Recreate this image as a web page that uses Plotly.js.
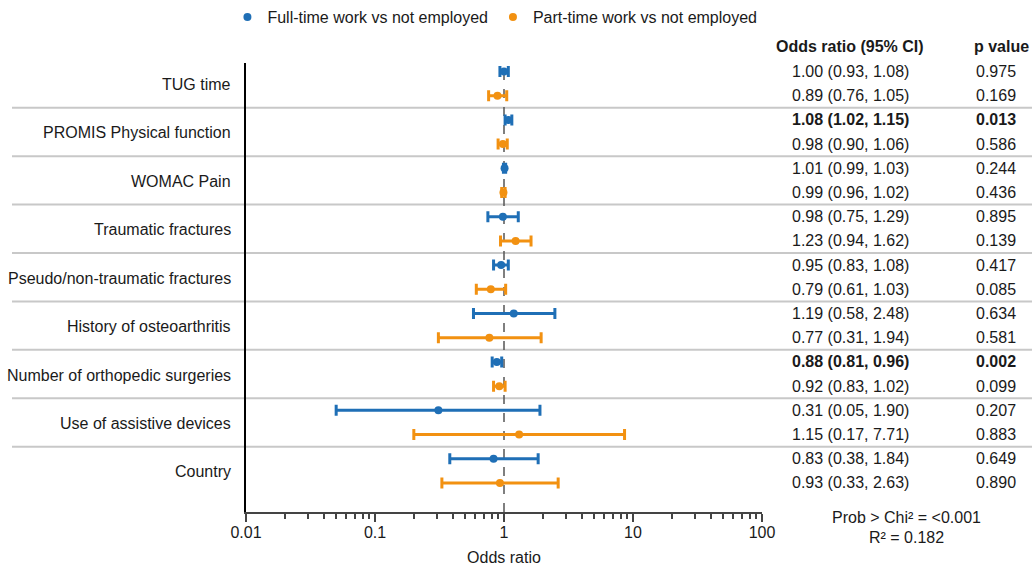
<!DOCTYPE html>
<html>
<head>
<meta charset="utf-8">
<script src="https://cdn.plot.ly/plotly-3.0.1.min.js"></script>
<style>html,body{margin:0;padding:0;background:#fff;}#chart{width:1032px;height:568px;}</style>
</head>
<body>
<div id="chart"></div>
<script>
// ---- data ----
const categories = ["TUG time", "PROMIS Physical function", "WOMAC Pain", "Traumatic fractures",
  "Pseudo/non-traumatic fractures", "History of osteoarthritis", "Number of orthopedic surgeries",
  "Use of assistive devices", "Country"];
const seriesNames = ["Full-time work vs not employed", "Part-time work vs not employed"];

// plotted marks
const ftEst = [1.00, 1.08, 1.01, 0.98, 0.95, 1.19, 0.88, 0.31, 0.83];
const ftLo  = [0.93, 1.02, 0.99, 0.75, 0.83, 0.58, 0.81, 0.05, 0.38];
const ftHi  = [1.08, 1.15, 1.03, 1.29, 1.08, 2.48, 0.96, 1.90, 1.84];
const ptEst = [0.89, 0.98, 0.99, 1.23, 0.79, 0.77, 0.92, 1.31, 0.93];
const ptLo  = [0.76, 0.90, 0.96, 0.94, 0.61, 0.31, 0.83, 0.20, 0.33];
const ptHi  = [1.05, 1.06, 1.02, 1.62, 1.03, 1.94, 1.02, 8.60, 2.63];

// table text
const ftTable = ["1.00 (0.93, 1.08)", "1.08 (1.02, 1.15)", "1.01 (0.99, 1.03)", "0.98 (0.75, 1.29)",
  "0.95 (0.83, 1.08)", "1.19 (0.58, 2.48)", "0.88 (0.81, 0.96)", "0.31 (0.05, 1.90)", "0.83 (0.38, 1.84)"];
const ptTable = ["0.89 (0.76, 1.05)", "0.98 (0.90, 1.06)", "0.99 (0.96, 1.02)", "1.23 (0.94, 1.62)",
  "0.79 (0.61, 1.03)", "0.77 (0.31, 1.94)", "0.92 (0.83, 1.02)", "1.15 (0.17, 7.71)", "0.93 (0.33, 2.63)"];
const ftP = ["0.975", "0.013", "0.244", "0.895", "0.417", "0.634", "0.002", "0.207", "0.649"];
const ptP = ["0.169", "0.586", "0.436", "0.139", "0.085", "0.581", "0.099", "0.883", "0.890"];
const ftBold = [false, true, false, false, false, false, true, false, false];
const ptBold = [false, false, false, false, false, false, false, false, false];

const tableHeaders = ["Odds ratio (95% CI)", "p value"];
const tickVals = [0.01, 0.1, 1, 10, 100];
const tickText = ["0.01", "0.1", "1", "10", "100"];
const statsText = ["Prob > Chi² = <0.001", "R² = 0.182"];

// ---- styling ----
const BLUE = "#1f6fb6";
const ORANGE = "#f29111";
const TXT = "#1a1a1a";
const FONT = "Liberation Sans, Arial, sans-serif";
const FS = 16;

const n = categories.length;
const yBlue = categories.map((c, i) => 2 * i);
const yOrange = categories.map((c, i) => 2 * i + 1);
const yTop = -0.35, yBottom = 18.2;
const yPaper = v => (yBottom - v) / (yBottom - yTop);

function trace(name, est, lo, hi, ys, color) {
  return {
    type: "scatter", mode: "markers", name: name,
    x: est, y: ys,
    marker: {color: color, size: 8},
    error_x: {type: "data", symmetric: false,
      array: est.map((v, i) => hi[i] - v),
      arrayminus: est.map((v, i) => v - lo[i]),
      color: color, thickness: 3, width: 5.5},
    hoverinfo: "x+name"
  };
}

const data = [
  trace(seriesNames[0], ftEst, ftLo, ftHi, yBlue, BLUE),
  trace(seriesNames[1], ptEst, ptLo, ptHi, yOrange, ORANGE)
];

const shapes = [];
// separators between categories
for (let i = 0; i < n - 1; i++) {
  const yp = yPaper(2 * i + 1.5);
  shapes.push({type: "line", xref: "paper", yref: "paper", x0: -0.4535, x1: 1.53, y0: yp, y1: yp,
    line: {color: "#c8c8c8", width: 2}, layer: "below"});
}
// reference line at 1
shapes.push({type: "line", xref: "x", yref: "paper", x0: 1, x1: 1, y0: 0, y1: 1,
  line: {color: "#555", width: 1.5, dash: "dash"}, layer: "below"});

const annotations = [];
const txtFont = {family: FONT, size: FS, color: TXT};
categories.forEach((c, i) => {
  annotations.push({xref: "paper", yref: "y", x: 0, xshift: -13, y: 2 * i + 0.5, yshift: -1,
    text: c, showarrow: false, xanchor: "right", yanchor: "middle", font: txtFont});
  const rows = [[ftTable[i], ftP[i], ftBold[i], 2 * i], [ptTable[i], ptP[i], ptBold[i], 2 * i + 1]];
  rows.forEach(r => {
    const t1 = r[2] ? "<b>" + r[0] + "</b>" : r[0];
    const t2 = r[2] ? "<b>" + r[1] + "</b>" : r[1];
    annotations.push({xref: "paper", yref: "y", x: 1, xshift: 88, y: r[3], text: t1,
      showarrow: false, xanchor: "center", yanchor: "middle", font: txtFont});
    annotations.push({xref: "paper", yref: "y", x: 1, xshift: 234, y: r[3], text: t2,
      showarrow: false, xanchor: "center", yanchor: "middle", font: txtFont});
  });
});
annotations.push({xref: "paper", yref: "paper", x: 1, xshift: 88, y: 1, yshift: 17,
  text: "<b>" + tableHeaders[0] + "</b>", showarrow: false, xanchor: "center", yanchor: "middle", font: txtFont});
annotations.push({xref: "paper", yref: "paper", x: 1, xshift: 239, y: 1, yshift: 17,
  text: "<b>" + tableHeaders[1] + "</b>", showarrow: false, xanchor: "center", yanchor: "middle", font: txtFont});
annotations.push({xref: "paper", yref: "paper", x: 1, xshift: 144, y: 0, yshift: -5,
  text: statsText[0], showarrow: false, xanchor: "center", yanchor: "middle", font: txtFont});
annotations.push({xref: "paper", yref: "paper", x: 1, xshift: 144, y: 0, yshift: -25,
  text: statsText[1], showarrow: false, xanchor: "center", yanchor: "middle", font: txtFont});

const minorVals = [];
for (let k = -2; k < 2; k++) for (let m = 2; m <= 9; m++) minorVals.push(m * Math.pow(10, k));

const layout = {
  width: 1032, height: 568,
  margin: {l: 246, r: 270, t: 63, b: 56, autoexpand: false},
  paper_bgcolor: "#fff", plot_bgcolor: "rgba(0,0,0,0)",
  font: {family: FONT, size: FS, color: TXT},
  showlegend: true,
  legend: {orientation: "h", x: -0.036, xanchor: "left", y: 1.102, yanchor: "middle",
    font: {family: FONT, size: FS, color: TXT}, bgcolor: "rgba(0,0,0,0)"},
  xaxis: {type: "log", range: [-2, 2], tickmode: "array", tickvals: tickVals, ticktext: tickText,
    ticks: "outside", ticklen: 8, tickwidth: 2, tickcolor: "#444", ticklabelstandoff: -3,
    minor: {tickmode: "array", tickvals: minorVals, ticks: "outside", ticklen: 5, tickwidth: 2, tickcolor: "#444", showgrid: false},
    showline: true, linecolor: "#444", linewidth: 2, showgrid: false, zeroline: false,
    tickfont: {family: FONT, size: FS, color: TXT},
    title: {text: "Odds ratio", font: {family: FONT, size: FS, color: TXT}, standoff: 12}},
  yaxis: {range: [yBottom, yTop], showticklabels: false, ticks: "", showgrid: false, zeroline: false,
    showline: true, linecolor: "#000", linewidth: 2},
  shapes: shapes,
  annotations: annotations
};

Plotly.newPlot("chart", data, layout, {displayModeBar: false, responsive: false});
</script>
</body>
</html>
